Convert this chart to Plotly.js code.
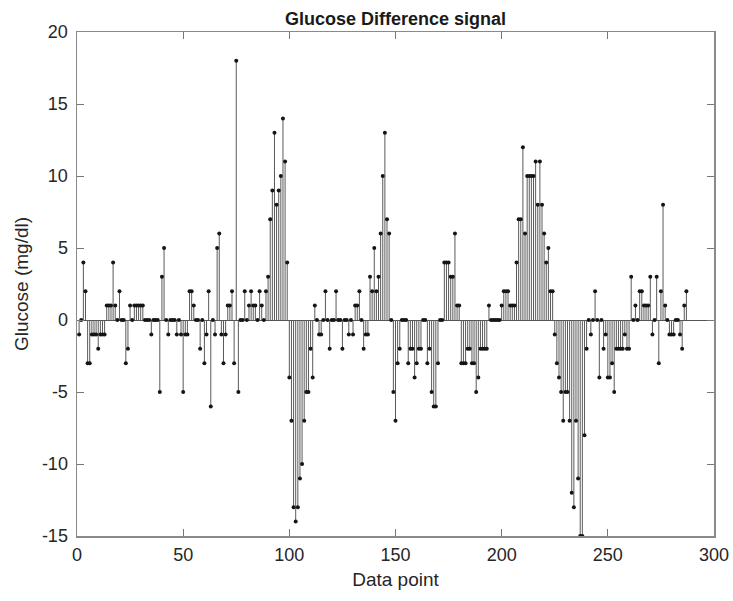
<!DOCTYPE html>
<html>
<head>
<meta charset="utf-8">
<script src="https://cdn.plot.ly/plotly-3.0.1.min.js"></script>
<style>
  html, body { margin: 0; padding: 0; background: #ffffff; }
  #chart { width: 733px; height: 601px; }
</style>
</head>
<body>
<div id="chart"></div>
<script>
// Glucose difference values for data points 1..287
const glucoseDiff = [
  -1, 0, 4, 2, -3, -3, -1, -1, -1, -2,
  -1, -1, -1, 1, 1, 1, 4, 1, 0, 2,
  0, 0, -3, -2, 1, 0, 1, 1, 1, 1,
  1, 0, 0, 0, -1, 0, 0, 0, -5, 3,
  5, 0, -1, 0, 0, 0, -1, 0, -1, -5,
  -1, -1, 2, 2, 1, 0, 0, -2, 0, -3,
  -1, 2, -6, 0, -1, 5, 6, -1, -3, -1,
  1, 1, 2, -3, 18, -5, 0, 0, 2, 0,
  1, 2, 1, 1, 0, 2, 1, 0, 2, 3,
  7, 9, 13, 8, 9, 10, 14, 11, 4, -4,
  -7, -13, -14, -13, -11, -10, -7, -5, -5, -2,
  -4, 1, 0, -1, -1, 0, 2, 0, -2, 0,
  0, 2, 0, 0, -2, 0, 0, -1, 0, -1,
  1, 1, 2, 0, -2, -1, -1, 3, 2, 5,
  2, 3, 6, 10, 13, 7, 6, 0, -5, -7,
  -3, -2, 0, 0, 0, -3, -2, -2, -4, -3,
  -2, -2, 0, 0, -3, -2, -5, -6, -6, -3,
  0, 0, 4, 4, 4, 3, 3, 6, 1, 1,
  -3, -3, -3, -2, -2, -3, -3, -5, -4, -2,
  -2, -2, -2, 1, 0, 0, 0, 0, 0, 1,
  2, 2, 2, 1, 1, 1, 4, 7, 7, 12,
  6, 10, 10, 10, 10, 11, 8, 11, 8, 6,
  4, 5, 2, 2, -1, -3, -4, -5, -7, -5,
  -5, -7, -12, -13, -7, -11, -15, -15, -8, -2,
  0, -1, 0, 2, 0, -4, 0, -2, -1, -4,
  -4, -3, -5, -2, -2, -2, -2, -1, -2, -2,
  3, 0, 1, 0, 2, 2, 1, 1, 1, 3,
  -1, 0, 3, -3, 2, 8, 1, 0, -1, -1,
  -1, 0, 0, -1, -2, 1, 2
];
const dataPoint = glucoseDiff.map((_, i) => i + 1);

const xTicks = [0, 50, 100, 150, 200, 250, 300];
const yTicks = [-15, -10, -5, 0, 5, 10, 15, 20];

const chartTitle = 'Glucose Difference signal';
const xLabel = 'Data point';
const yLabel = 'Glucose (mg/dl)';

// Build stem segments (x,x,null) / (0,y,null)
const stemX = [], stemY = [];
dataPoint.forEach((x, i) => {
  stemX.push(x, x, null);
  stemY.push(0, glucoseDiff[i], null);
});

const traces = [
  {
    type: 'scatter', mode: 'lines', x: stemX, y: stemY,
    line: { color: '#5a5a5a', width: 1 }, hoverinfo: 'skip', showlegend: false
  },
  {
    type: 'scatter', mode: 'markers', x: dataPoint, y: glucoseDiff,
    marker: { color: '#151515', size: 4, line: { width: 0 } }, showlegend: false
  }
];

const fontFam = 'Liberation Sans, Arial, Helvetica, sans-serif';
const layout = {
  width: 733, height: 601,
  margin: { l: 77, r: 19, t: 32, b: 65, pad: 0 },
  paper_bgcolor: '#ffffff', plot_bgcolor: '#ffffff',
  font: { family: fontFam, color: '#262626', size: 18 },
  title: {
    text: '<b>' + chartTitle + '</b>',
    font: { family: fontFam, size: 18, color: '#1a1a1a' },
    x: 0.5, xref: 'paper', xanchor: 'center',
    y: 1, yref: 'paper', yanchor: 'bottom', pad: { b: 7 }
  },
  xaxis: {
    range: [0, 300], tickvals: xTicks, ticktext: xTicks.map(String),
    ticks: 'inside', ticklen: 7, tickcolor: '#777', tickwidth: 1,
    showline: true, linecolor: '#8a8a8a', linewidth: 1.5, mirror: 'ticks',
    showgrid: false, zeroline: false, ticklabelstandoff: 2,
    tickfont: { family: fontFam, size: 18, color: '#262626' },
    title: { text: xLabel, font: { family: fontFam, size: 19, color: '#262626' }, standoff: 8 }
  },
  yaxis: {
    range: [-15, 20], tickvals: yTicks, ticktext: yTicks.map(String),
    ticks: 'inside', ticklen: 7, tickcolor: '#777', tickwidth: 1,
    showline: true, linecolor: '#8a8a8a', linewidth: 1.5, mirror: 'ticks',
    showgrid: false, zeroline: true, zerolinecolor: '#555', zerolinewidth: 1,
    ticklabelstandoff: 4,
    tickfont: { family: fontFam, size: 18, color: '#262626' },
    title: { text: yLabel, font: { family: fontFam, size: 19, color: '#262626' }, standoff: 8 }
  }
};

Plotly.newPlot('chart', traces, layout, { staticPlot: true, displayModeBar: false });
</script>
</body>
</html>
